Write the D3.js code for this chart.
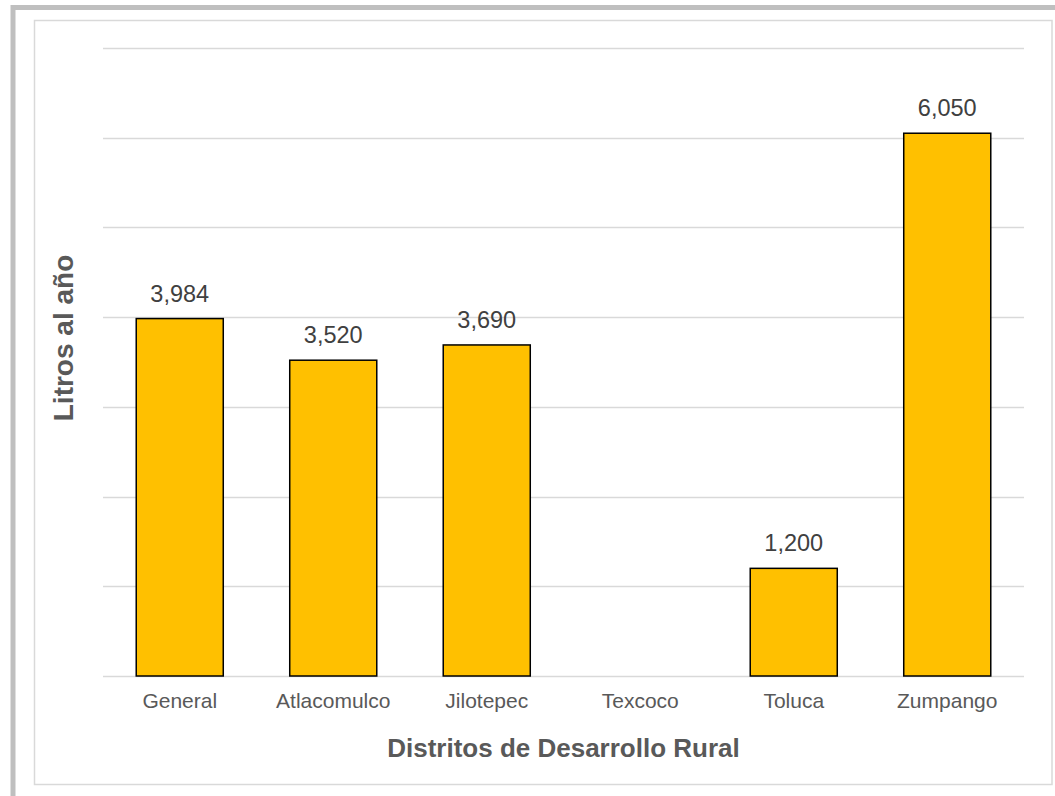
<!DOCTYPE html>
<html>
<head>
<meta charset="utf-8">
<script src="https://cdn.jsdelivr.net/npm/d3@7"></script>
<style>
  html, body { margin: 0; padding: 0; background: #fff; }
  svg { display: block; font-family: "Liberation Sans", Arial, sans-serif; }
</style>
</head>
<body>
<svg id="chart" width="1055" height="796"></svg>
<script>
const categories = ["General", "Atlacomulco", "Jilotepec", "Texcoco", "Toluca", "Zumpango"];
const values = [3984, 3520, 3690, null, 1200, 6050];
const yTicks = [0, 1000, 2000, 3000, 4000, 5000, 6000, 7000];
const xTitle = "Distritos de Desarrollo Rural";
const yTitle = "Litros al año";

const svg = d3.select("#chart");
const W = 1055, H = 796;

// outer frame
svg.append("rect").attr("x", 13).attr("y", 7.5).attr("width", W + 20).attr("height", H + 20)
  .attr("fill", "none").attr("stroke", "#bfbfbf").attr("stroke-width", 5);
// inner frame
svg.append("rect").attr("x", 34.5).attr("y", 20.5).attr("width", 1017.5).attr("height", 764)
  .attr("fill", "#fff").attr("stroke", "#d9d9d9").attr("stroke-width", 1.5);

const m = { left: 103, right: 1024, top: 48, bottom: 676 };
const x = d3.scaleBand().domain(categories).range([m.left, m.right]).paddingInner(0.433).paddingOuter(0.2165);
const y = d3.scaleLinear().domain([0, 7000]).range([m.bottom, m.top]);

// gridlines
svg.append("g").selectAll("line").data(yTicks).join("line")
  .attr("x1", m.left).attr("x2", m.right)
  .attr("y1", d => Math.round(y(d)) + 0.5).attr("y2", d => Math.round(y(d)) + 0.5)
  .attr("stroke", "#d9d9d9").attr("stroke-width", 1.5);

const data = categories.map((c, i) => ({ c, v: values[i] }));

// bars
svg.append("g").selectAll("rect").data(data.filter(d => d.v != null)).join("rect")
  .attr("x", d => x(d.c)).attr("width", x.bandwidth())
  .attr("y", d => y(d.v)).attr("height", d => y(0) - y(d.v))
  .attr("fill", "#FFC000").attr("stroke", "#000").attr("stroke-width", 1.5);

// value labels
svg.append("g").selectAll("text").data(data.filter(d => d.v != null)).join("text")
  .attr("x", d => x(d.c) + x.bandwidth() / 2).attr("y", d => y(d.v) - 17)
  .attr("text-anchor", "middle").attr("font-size", 23.5).attr("fill", "#404040")
  .text(d => d3.format(",")(d.v));

// x axis tick labels
const xAxis = d3.axisBottom(x).tickSize(0).tickPadding(0);
const gx = svg.append("g").attr("transform", `translate(0,${m.bottom})`).call(xAxis);
gx.select(".domain").remove();
gx.selectAll("text").attr("dy", null).attr("y", 32).attr("font-size", 21).attr("fill", "#595959")
  .attr("font-family", "Liberation Sans, Arial, sans-serif");

// axis titles
svg.append("text").attr("x", (m.left + m.right) / 2).attr("y", 757)
  .attr("text-anchor", "middle").attr("font-size", 26).attr("font-weight", "bold").attr("fill", "#595959")
  .text(xTitle);
svg.append("text").attr("transform", `translate(73,338) rotate(-90)`)
  .attr("text-anchor", "middle").attr("font-size", 28).attr("font-weight", "bold").attr("fill", "#595959")
  .text(yTitle);
</script>
</body>
</html>
